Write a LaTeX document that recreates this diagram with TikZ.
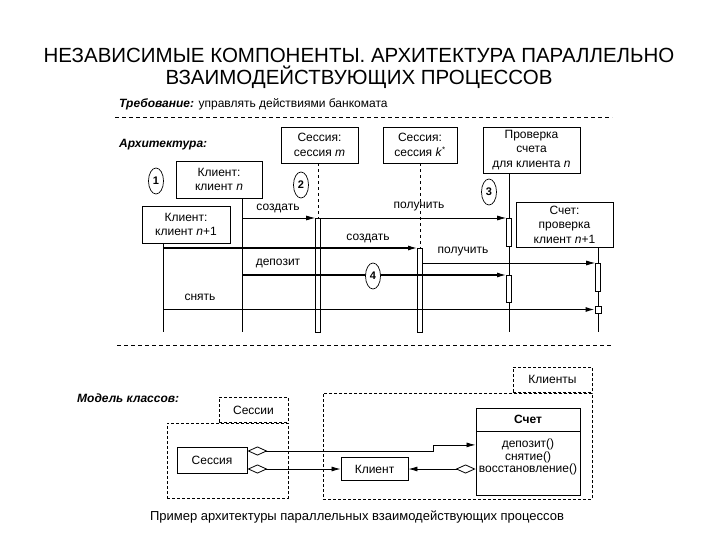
\documentclass[tikz,border=0pt]{standalone}
\usepackage{fontspec}
\setmainfont{Liberation Sans}
\usepackage{tikz}
\usetikzlibrary{positioning,arrows.meta,shapes.geometric}

\begin{document}
\begin{tikzpicture}[x=1pt, y=-1pt, >={Latex[length=9pt,width=5pt]},
  every node/.style={font=\fontsize{12}{14.5}\selectfont, inner sep=0pt},
  objbox/.style={draw, line width=0.9pt, align=center, fill=white},
  num/.style={draw, ellipse, line width=0.7pt, fill=white, minimum width=15pt, minimum height=26pt, font=\fontsize{11}{12}\selectfont\bfseries},
  actbar/.style={draw, fill=white, line width=0.7pt, minimum width=5pt},
  msg/.style={->, line width=0.8pt},
  msgbold/.style={->, line width=1.3pt},
  life/.style={line width=0.8pt},
  sepline/.style={dash pattern=on 4pt off 3pt, line width=0.9pt},
  pkg/.style={draw, dash pattern=on 3pt off 2pt, line width=0.6pt},
  agg/.style={{Diamond[open,length=20pt,width=9pt]}-{Latex[length=9pt,width=5pt]}, line width=0.8pt},
  hdr/.style={font=\fontsize{12}{14}\selectfont\bfseries\itshape, anchor=west}]
\useasboundingbox (0,0) rectangle (720,540);

% title
\node[font=\fontsize{20.5}{22}\selectfont, align=center] (title) at (359,68) {НЕЗАВИСИМЫЕ КОМПОНЕНТЫ. АРХИТЕКТУРА ПАРАЛЛЕЛЬНО\\ВЗАИМОДЕЙСТВУЮЩИХ ПРОЦЕССОВ};

\node[anchor=west] (req) at (119,104) {\textbf{\textit{Требование:}} управлять действиями банкомата};
\draw[sepline] (115,117) -- (612,117);
\node[hdr] (arch) at (119,145) {Архитектура:};

% objects
\node[objbox, minimum width=77pt, minimum height=36pt] (sm) at (319.5,145) {Сессия:\\сессия \textit{m}};
\node[objbox, minimum width=74pt, minimum height=36pt] (sk) at (420,145) {Сессия:\\сессия \textit{k}\textsuperscript{*}};
\node[objbox, minimum width=97pt, minimum height=46pt] (pr) at (531.5,150) {Проверка\\счета\\для клиента \textit{n}};
\node[objbox, minimum width=86pt, minimum height=37pt] (cn) at (219,179.5) {Клиент:\\клиент \textit{n}};
\node[objbox, minimum width=88pt, minimum height=37pt] (cn1) at (186,224.5) {Клиент:\\клиент \textit{n}+1};
\node[objbox, minimum width=97pt, minimum height=45pt] (sc) at (564.5,224.5) {Счет:\\проверка\\клиент \textit{n}+1};

% lifelines
\coordinate (lcn) at (242,332);
\coordinate (lcn1) at (163,332);
\coordinate (lsm) at (318,332);
\coordinate (lsk) at (420,332);
\coordinate (lpr) at (509,332);
\coordinate (lsc) at (598,332);
\draw[life] (cn.south -| lcn) -- (lcn);
\draw[life] (cn1.south -| lcn1) -- (lcn1);
\draw[life, dashed] (sm.south -| lsm) -- (lsm);
\draw[life, dashed] (sk.south -| lsk) -- (lsk);
\draw[life] (pr.south -| lpr) -- (lpr);
\draw[life] (sc.south -| lsc) -- (lsc);

% activations
\node[actbar, minimum height=114pt, anchor=north] (smb) at (318,218) {};
\node[actbar, minimum height=84pt, anchor=north] (skb) at (420,248) {};
\node[actbar, minimum height=28pt, anchor=north] (prb1) at (509,218) {};
\node[actbar, minimum height=27pt, anchor=north] (prb2) at (509,275) {};
\node[actbar, minimum height=28pt, anchor=north] (scb) at (598,263) {};
\node[actbar, minimum height=7pt, minimum width=6pt] (scq) at (598,309.5) {};

% messages
\draw[msg] (lcn |- smb.north) -- (smb.north west);
\draw[msg] (smb.north east) -- (prb1.north west);
\draw[msgbold] (lcn1 |- skb.north) -- (skb.north west);
\draw[msg] (skb.east |- scb.north) -- (scb.north west);
\draw[msgbold] (lcn |- prb2.north) -- (prb2.north west);
\draw[msgbold] (lcn1 |- scq.west) -- (scq.west);
\node (m1) at (278,208) {создать};
\node (m2) at (419,207) {получить};
\node (m3) at (368,238) {создать};
\node (m4) at (463,252) {получить};
\node (m5) at (278,263) {депозит};
\node (m6) at (200,297) {снять};

\node[num] (c1) at (156,181) {1};
\node[num] (c2) at (301,185) {2};
\node[num] (c3) at (489,192) {3};
\node[num] (c4) at (373,276) {4};

\draw[sepline] (117,345) -- (612,345);

% class model
\node[hdr] (mk) at (77,398) {Модель классов:};
\node[pkg, minimum width=121pt, minimum height=75pt] (pses) at (227.5,460.5) {};
\node[pkg, minimum width=69pt, minimum height=25pt, anchor=south east] (tses) at (pses.north east) {Сессии};
\node[pkg, minimum width=269pt, minimum height=106pt] (pkl) at (457.5,446) {};
\node[pkg, minimum width=79pt, minimum height=25pt, anchor=south east] (tkl) at (pkl.north east) {Клиенты};

\node[objbox, minimum width=70pt, minimum height=26pt] (ses) at (212,460) {Сессия};
\node[objbox, minimum width=67pt, minimum height=23pt] (kl) at (374.5,469) {Клиент};
\node[objbox, minimum width=104pt, minimum height=23pt, font=\fontsize{12}{14}\selectfont\bfseries] (sch) at (528,419.5) {Счет};
\node[objbox, minimum width=104pt, minimum height=64pt, anchor=north] (schm) at (sch.south) {};
\node[anchor=north, align=center, font=\fontsize{12}{12.8}\selectfont] (schmt) at ([yshift=-7pt]schm.north) {депозит()\\снятие()\\восстановление()};

\draw[agg] ([yshift=9pt]ses.east) -- ++(186,0) |- ([yshift=19pt]schm.west);
\draw[agg] ([yshift=-9pt]ses.east) -- (kl.west);
\draw[agg] (kl.east -| schm.west) -- (kl.east);

\node[font=\fontsize{13}{15}\selectfont] (cap) at (357,517) {Пример архитектуры параллельных взаимодействующих процессов};
\end{tikzpicture}
\end{document}
